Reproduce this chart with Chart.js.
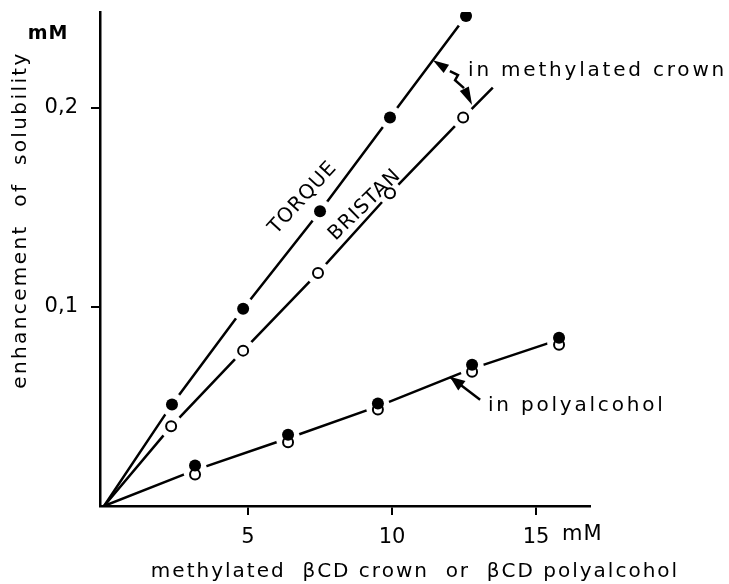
<!DOCTYPE html>
<html lang="en">
<head>
<meta charset="UTF-8">
<title>enhancement of solubility</title>
<script src="https://cdn.jsdelivr.net/npm/chart.js"></script>
<style>
    html, body { margin: 0; padding: 0; background: #fff; }
    #box { width: 729px; height: 584px; }
</style>
</head>
<body>
<div id="box"><canvas id="grafico"></canvas></div>
<script>
    // values (x in mM, y in mM)
    const torqueX = [2.36, 4.83, 7.5, 9.93, 12.57];
    const torqueY = [0.051, 0.099, 0.148, 0.195, 0.246];
    const bristanX = [2.33, 4.83, 7.43, 9.93, 12.47];
    const bristanY = [0.040, 0.078, 0.117, 0.157, 0.195];
    const polyX = [3.16, 6.39, 9.51, 12.78, 15.8];
    const polyTorqueY = [0.0203, 0.0358, 0.0514, 0.0709, 0.0845];
    const polyBristanY = [0.0158, 0.032, 0.0484, 0.0674, 0.081];

    // the drawn lines start at the origin; BRISTAN runs on past its last point
    const torqueLineX = [0, ...torqueX];
    const torqueLineY = [0, ...torqueY];
    const bristanLineX = [0, ...bristanX, 13.5];
    const bristanLineY = [0, ...bristanY, 0.21];
    const polyLineX = [0, ...polyX];
    const polyLineY = [0, 0.018, 0.034, 0.050, 0.069, 0.0835];

    const xTicks = [5, 10, 15];
    const yTicks = [0.1, 0.2];

    const fonte = '"DejaVu Sans", sans-serif';

    function pts(xs, ys) {
        return xs.map((x, i) => ({ x: x, y: ys[i] }));
    }

    function linha(xs, ys, ordem) {
        return {
            data: pts(xs, ys), showLine: true, borderColor: '#000', borderWidth: 2.5,
            pointRadius: 0, fill: false, tension: 0, order: ordem
        };
    }

    // white disc under each marker, cuts the line like in the print
    function halo(xs, ys, ordem) {
        return {
            data: pts(xs, ys), showLine: false, pointRadius: 12, pointBorderWidth: 0,
            pointBackgroundColor: '#fff', pointBorderColor: '#fff', order: ordem
        };
    }

    function cheio(xs, ys, ordem) {
        return {
            data: pts(xs, ys), showLine: false, pointRadius: 6, pointBorderWidth: 0,
            pointBackgroundColor: '#000', pointBorderColor: '#000', order: ordem
        };
    }

    function vazio(xs, ys, ordem) {
        return {
            data: pts(xs, ys), showLine: false, pointRadius: 5, pointBorderWidth: 2,
            pointBackgroundColor: '#fff', pointBorderColor: '#000', order: ordem
        };
    }

    // annotation anchors, in data units
    const torqueLabel = { x: 6.91, y: 0.1546, ang: -47.5 };
    const bristanLabel = { x: 9.06, y: 0.1511, ang: -44.5 };
    const crownArrow = [[11.42, 0.2238], [12.01, 0.2183], [12.29, 0.2163], [12.19, 0.2138], [12.5, 0.2098], [12.78, 0.2013]];
    const crownText = { x: 12.64, y: 0.2183 };
    const polyArrow = [[13.06, 0.0534], [12.01, 0.0649]];
    const polyText = { x: 13.33, y: 0.0504 };

    function ponta(ctx, x0, y0, x1, y1, comp, larg) {
        const a = Math.atan2(y1 - y0, x1 - x0);
        ctx.beginPath();
        ctx.moveTo(x1, y1);
        ctx.lineTo(x1 - comp * Math.cos(a) + larg * Math.sin(a), y1 - comp * Math.sin(a) - larg * Math.cos(a));
        ctx.lineTo(x1 - comp * Math.cos(a) - larg * Math.sin(a), y1 - comp * Math.sin(a) + larg * Math.cos(a));
        ctx.closePath();
        ctx.fill();
    }

    const anotacoes = {
        id: 'anotacoes',
        afterDraw(chart) {
            const ctx = chart.ctx;
            const sx = chart.scales.x, sy = chart.scales.y;
            const P = (x, y) => [sx.getPixelForValue(x), sy.getPixelForValue(y)];
            ctx.save();
            ctx.fillStyle = '#000';
            ctx.strokeStyle = '#000';

            // rotated curve labels
            ctx.font = '20px ' + fonte;
            ctx.textAlign = 'center';
            ctx.textBaseline = 'middle';
            ctx.letterSpacing = '1px';
            [[torqueLabel, 'TORQUE'], [bristanLabel, 'BRISTAN']].forEach(([l, t]) => {
                const [px, py] = P(l.x, l.y);
                ctx.save();
                ctx.translate(px, py);
                ctx.rotate(l.ang * Math.PI / 180);
                ctx.fillText(t, 0, 0);
                ctx.restore();
            });

            // methylated crown arrow
            const c = crownArrow.map(p => P(p[0], p[1]));
            ctx.lineWidth = 2.5;
            ctx.beginPath();
            ctx.moveTo(c[1][0], c[1][1]);
            for (let i = 2; i < 5; i++) ctx.lineTo(c[i][0], c[i][1]);
            ctx.stroke();
            ponta(ctx, c[1][0], c[1][1], c[0][0], c[0][1], 16, 5);
            ponta(ctx, c[4][0], c[4][1], c[5][0], c[5][1], 18, 5);

            // polyalcohol arrow
            const a0 = P(polyArrow[0][0], polyArrow[0][1]);
            const a1 = P(polyArrow[1][0], polyArrow[1][1]);
            ctx.beginPath();
            ctx.moveTo(a0[0], a0[1]);
            ctx.lineTo(a1[0], a1[1]);
            ctx.stroke();
            ponta(ctx, a0[0], a0[1], a1[0], a1[1], 15, 6);

            ctx.textAlign = 'left';
            ctx.letterSpacing = '2.8px';
            let p = P(crownText.x, crownText.y);
            ctx.fillText('in methylated crown', p[0], p[1]);
            p = P(polyText.x, polyText.y);
            ctx.fillText('in polyalcohol', p[0], p[1]);

            // units
            ctx.letterSpacing = '1px';
            ctx.font = '21px ' + fonte;
            ctx.fillText('mM', sx.getPixelForValue(15) + 26, 535);
            ctx.font = 'bold 19px ' + fonte;
            ctx.textAlign = 'center';
            ctx.fillText('mM', 48, 34);

            // axis titles
            ctx.font = '20px ' + fonte;
            ctx.letterSpacing = '2px';
            ctx.textBaseline = 'alphabetic';
            ctx.fillText('methylated  \u03b2CD crown  or  \u03b2CD polyalcohol', 415, 577);
            ctx.save();
            ctx.translate(26, 220);
            ctx.rotate(-Math.PI / 2);
            ctx.letterSpacing = '2.4px';
            ctx.fillText('enhancement  of  solubility', 0, 0);
            ctx.restore();

            ctx.restore();
        }
    };

    new Chart(document.getElementById('grafico'), {
        type: 'scatter',
        data: {
            datasets: [
                cheio(polyX, polyTorqueY, 0),
                vazio(polyX, polyBristanY, 1),
                cheio(torqueX, torqueY, 2),
                vazio(bristanX, bristanY, 3),
                halo(polyX, polyTorqueY.map((v, i) => (v + polyBristanY[i]) / 2), 4),
                linha(polyLineX, polyLineY, 5),
                halo(torqueX, torqueY, 6),
                linha(torqueLineX, torqueLineY, 7),
                halo(bristanX, bristanY, 8),
                linha(bristanLineX, bristanLineY, 9)
            ]
        },
        options: {
            responsive: true,
            maintainAspectRatio: false,
            animation: false,
            devicePixelRatio: 1,
            layout: { padding: { left: 0, top: 12, right: 139, bottom: 0 } },
            plugins: { legend: { display: false }, tooltip: { enabled: false } },
            scales: {
                x: {
                    type: 'linear', min: -0.14, max: 16.875,
                    afterBuildTicks: s => { s.ticks = xTicks.map(v => ({ value: v })); },
                    afterFit: s => { s.height = 78; s.paddingLeft = 0; s.paddingRight = 0; },
                    grid: { display: true, drawOnChartArea: false, drawTicks: true, tickLength: 9, color: '#000', lineWidth: 2 },
                    border: { display: true, color: '#000', width: 2.5 },
                    ticks: { color: '#000', padding: 10, font: { family: fonte, size: 21 } }
                },
                y: {
                    type: 'linear', min: 0, max: 0.248,
                    afterBuildTicks: s => { s.ticks = yTicks.map(v => ({ value: v })); },
                    afterFit: s => { s.width = 100; s.paddingTop = 0; s.paddingBottom = 0; },
                    grid: { display: true, drawOnChartArea: false, drawTicks: true, tickLength: 9, color: '#000', lineWidth: 2 },
                    border: { display: true, color: '#000', width: 2.5 },
                    ticks: {
                        color: '#000', padding: 13, font: { family: fonte, size: 21 },
                        callback: v => v.toFixed(1).replace('.', ',')
                    }
                }
            }
        },
        plugins: [anotacoes]
    });
</script>
</body>
</html>
